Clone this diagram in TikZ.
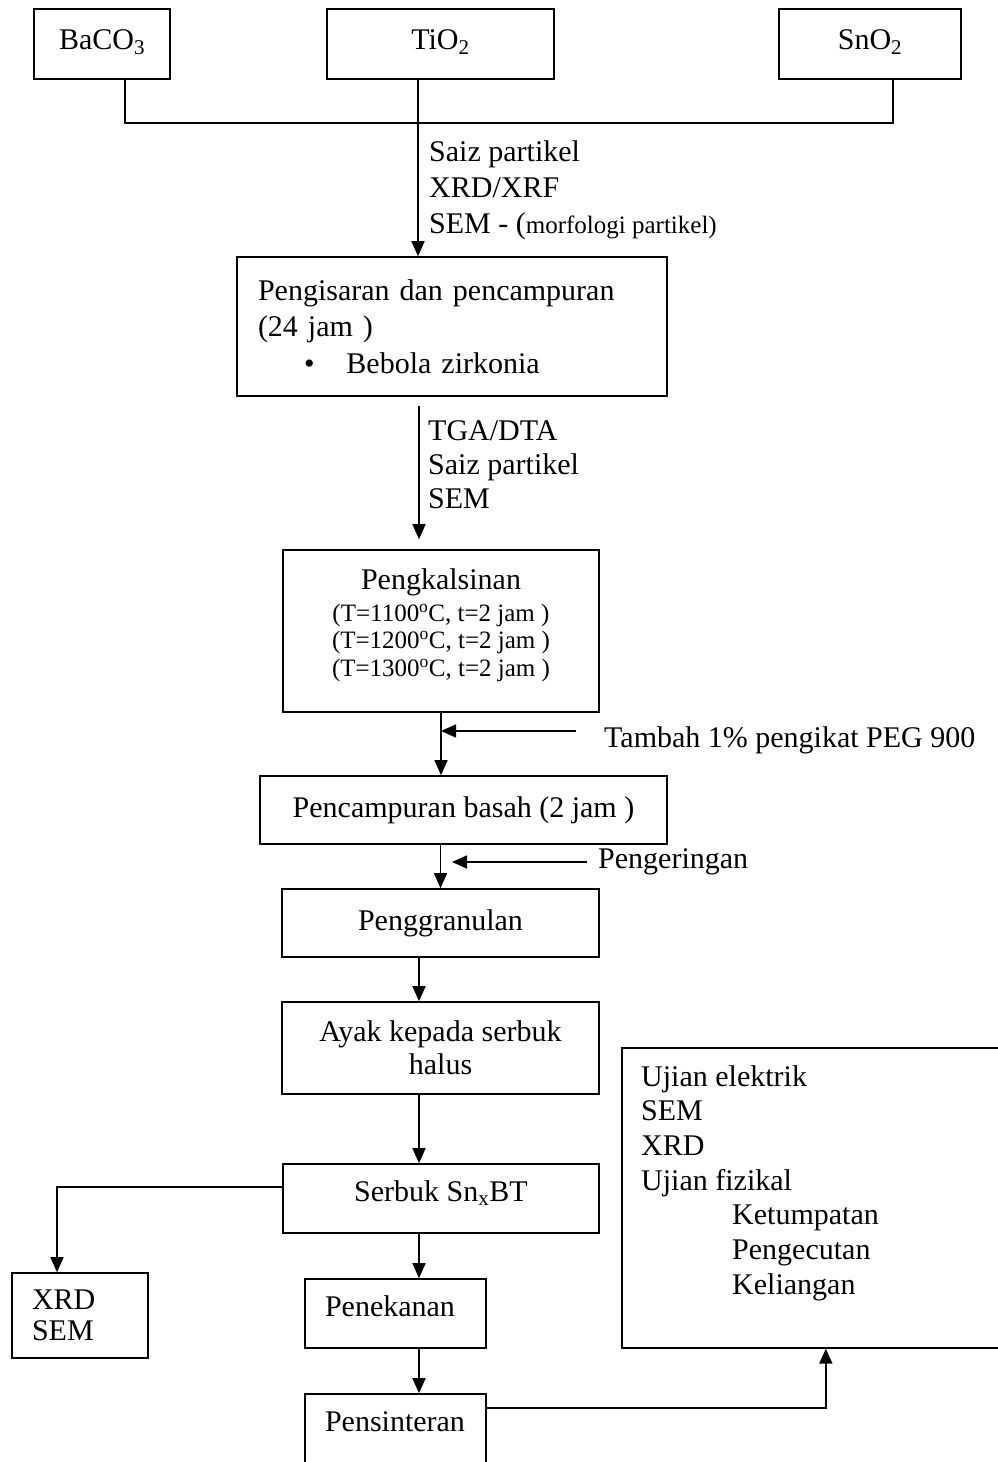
\documentclass[tikz,border=0pt]{standalone}
\usepackage{fontspec}
\setmainfont{Liberation Serif}
\usetikzlibrary{arrows.meta}

\begin{document}
\begin{tikzpicture}[
    x=1pt, y=-1pt,
    kotak/.style={draw, line width=1.6pt, inner sep=0pt, align=center,
        font=\fontsize{30}{35}\selectfont},
    kiri/.style={kotak, align=left, inner xsep=20pt},
    panah/.style={line width=1.6pt, -{Triangle[length=15pt,width=13pt]}},
    garis/.style={line width=1.6pt},
    ket/.style={inner sep=0pt, anchor=west, align=left,
        font=\fontsize{30}{35}\selectfont}]
    \useasboundingbox (0,0) rectangle (998,1462);
    \clip (0,0) rectangle (998,1462);

    % bahan mentah
    \node[kotak, minimum width=136pt, minimum height=70pt, text height=21pt, text depth=10pt] (baco) at (102,44) {BaCO\textsubscript{3}};
    \node[kotak, minimum width=227pt, minimum height=70pt, text height=21pt, text depth=10pt] (tio) at (440.5,44) {TiO\textsubscript{2}};
    \node[kotak, minimum width=182pt, minimum height=70pt, text height=21pt, text depth=10pt] (sno) at (870,44) {SnO\textsubscript{2}};

    % proses
    \node[kiri, minimum width=430pt, minimum height=139pt, inner xsep=21pt, text width=388pt,
          font=\fontsize{30}{36.5}\selectfont] (isar) at (452,326.5)
        {Pengisaran dan pencampuran\\(24 jam )\\\hspace*{46pt}\textbullet\hspace{32pt}Bebola zirkonia};
    \node[kotak, minimum width=316pt, minimum height=162pt, font=\fontsize{25}{27.5}\selectfont] (kals) at (441,631)
        {{\fontsize{30}{35}\selectfont Pengkalsinan}\\[4pt]
         (T=1100\textsuperscript{o}C, t=2 jam )\\(T=1200\textsuperscript{o}C, t=2 jam )\\(T=1300\textsuperscript{o}C, t=2 jam )\rule[-17pt]{0pt}{1pt}};
    \node[kotak, minimum width=407pt, minimum height=68pt] (basah) at (463.5,810) {Pencampuran basah (2 jam )};
    \node[kotak, minimum width=317pt, minimum height=68pt] (granul) at (440.5,923) {Penggranulan};
    \node[kotak, minimum width=317pt, minimum height=92pt, font=\fontsize{30}{33}\selectfont] (ayak) at (440.5,1048)
        {Ayak kepada serbuk\\halus};
    \node[kotak, minimum width=316pt, minimum height=69pt, text height=21pt, text depth=15pt] (serbuk) at (441,1198.5)
        {Serbuk Sn\textsubscript{x}BT};
    \node[kiri, minimum width=136pt, minimum height=85pt, text width=96pt, font=\fontsize{30}{31}\selectfont] (xrd) at (80,1315.5)
        {XRD\\SEM};
    \node[kiri, minimum width=181pt, minimum height=69pt, text width=141pt, text height=21pt, text depth=16pt] (tekan) at (395.5,1313.5)
        {Penekanan};
    \node[kiri, minimum width=181pt, minimum height=69pt, text width=141pt, text height=21pt, text depth=16pt] (sinter) at (395.5,1428.5)
        {Pensinteran};
    \node[kotak, minimum width=378pt, minimum height=300pt, anchor=north west] (uji) at (621,1047) {};
    \node[ket, anchor=north west, font=\fontsize{30}{34.7}\selectfont] (ujitxt) at (641,1065)
        {Ujian elektrik\\SEM\\XRD\\Ujian fizikal\\\hspace*{91pt}Ketumpatan\\\hspace*{91pt}Pengecutan\\\hspace*{91pt}Keliangan};

    % ukuran
    \node[ket, font=\fontsize{30}{36}\selectfont] (ukur1) at (429,190)
        {Saiz partikel\\XRD/XRF\\SEM - ({\fontsize{25}{36}\selectfont morfologi partikel)}};
    \node[ket, font=\fontsize{30}{34}\selectfont] (ukur2) at (428,465) {TGA/DTA\\Saiz partikel\\SEM};
    \node[ket] (tambah) at (604,740) {Tambah 1\% pengikat PEG 900};
    \node[ket] (kering) at (598,862) {Pengeringan};

    % sambungan
    \coordinate (jl) at (125,123);
    \coordinate (jr) at (893,123);
    \draw[garis] (baco.south -| jl) -- (jl) -- (jr) -- (sno.south -| jr);
    \draw[panah] ([xshift=-22.5pt]tio.south) -- ([xshift=-22.5pt]tio.south |- isar.north);
    \draw[panah, shorten <=9pt, shorten >=10pt] ([xshift=-33pt]isar.south) -- ([xshift=-33pt]isar.south |- kals.north);
    \draw[panah] (kals.south) -- (kals.south |- basah.north);
    \coordinate (tbh) at (576,731);
    \draw[panah] (tbh) -- (tbh -| kals.south);
    \draw[panah] (granul.north |- basah.south) -- (granul.north);
    \coordinate (krg) at (587,862);
    \coordinate (krg2) at (452,862);
    \draw[panah] (krg) -- (krg2);
    \draw[panah] ([xshift=-21.5pt]granul.south) -- ([xshift=-21.5pt]ayak.north);
    \draw[panah] ([xshift=-21.5pt]ayak.south) -- ([xshift=-21.5pt]ayak.south |- serbuk.north);
    \draw[panah] ([xshift=23.5pt]tekan.north |- serbuk.south) -- ([xshift=23.5pt]tekan.north);
    \draw[panah] ([xshift=23.5pt]tekan.south) -- ([xshift=23.5pt]sinter.north);
    \draw[panah] ([yshift=11.5pt]serbuk.west) -| ([xshift=-23pt]xrd.north);
    \draw[panah] ([yshift=20.5pt]sinter.east) -| ([xshift=15pt]uji.south);
\end{tikzpicture}
\end{document}
